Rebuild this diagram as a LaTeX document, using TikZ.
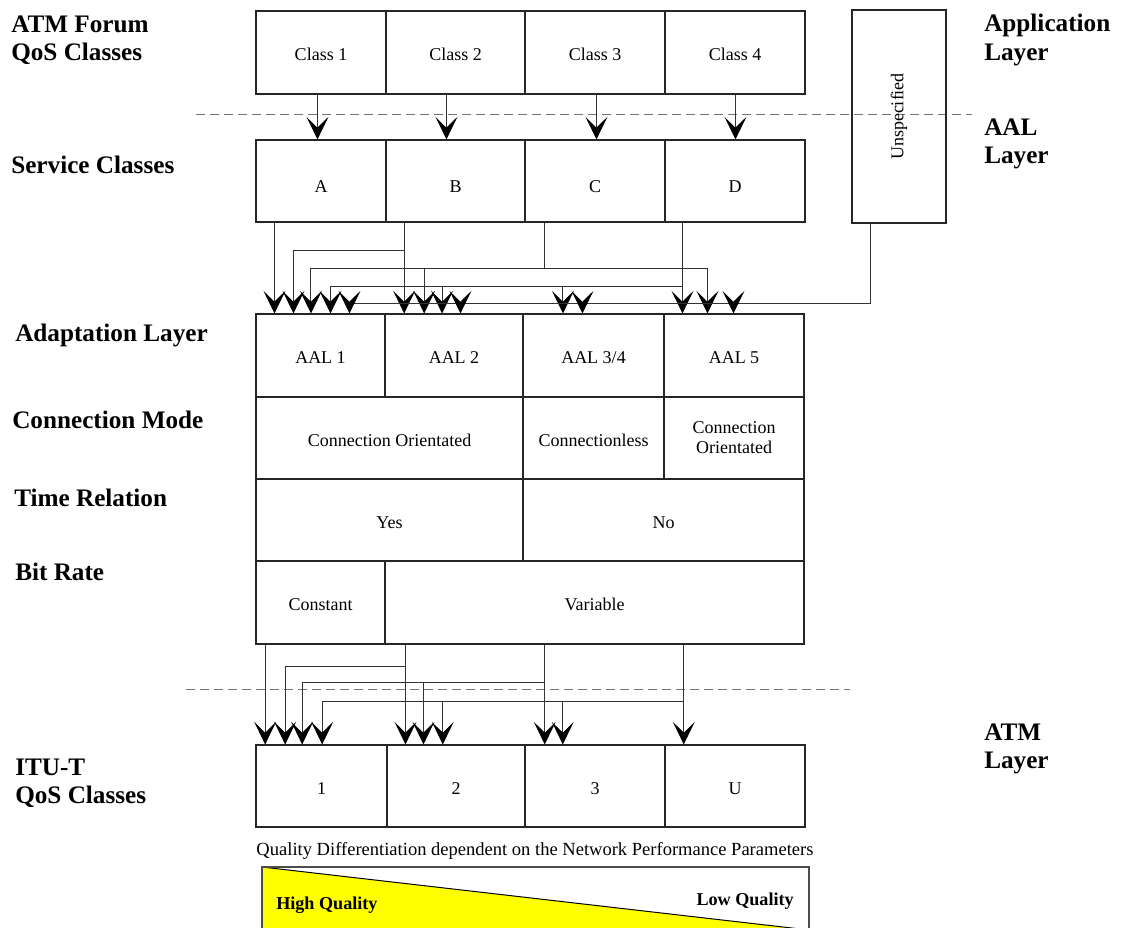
\documentclass[tikz,border=0pt]{standalone}
\usepackage{fontspec}
\setmainfont{Liberation Serif}
\usetikzlibrary{arrows.meta,calc}

\definecolor{qyellow}{RGB}{255,255,0}

% one table cell: name, left, top, right, bottom (pixel grid), text
\newcommand\cellbox[6]{%
  \node[cell, minimum width={(#4-#2)*0.75pt}, minimum height={(#5-#3)*0.75pt}]
    (#1) at ({(#2+#4)/2},{(#3+#5)/2}) {#6};}

\tikzset{
  cell/.style={draw=black!85, line width=0.8pt, inner sep=0pt, align=center,
               font=\fontsize{13.5pt}{15pt}\selectfont},
  oneline/.style={text height=12.7pt, text depth=0pt},
  lab/.style={font=\bfseries\fontsize{18.9pt}{21.5pt}\selectfont,
              inner sep=0pt, anchor=base west},
  small/.style={font=\fontsize{13.9pt}{16pt}\selectfont, inner sep=0pt},
  smallbold/.style={font=\bfseries\fontsize{13.6pt}{16pt}\selectfont, inner sep=0pt},
  wire/.style={draw=black!80, line width=0.75pt},
  arr/.style={wire, -{Stealth[length=17pt, width=16.5pt, inset=8.2pt, black]}},
  layerline/.style={draw=black!55, line width=0.75pt, dash pattern=on 6.75pt off 3.75pt},
}

\begin{document}
\begin{tikzpicture}[x=0.75pt, y=-0.75pt]
\useasboundingbox (0,0) rectangle (1122,928);

% ---------- row labels ----------
\node[lab] (lAtmForum) at (11,32.3) {\begin{tabular}[t]{@{}l@{}}ATM Forum\\QoS Classes\end{tabular}};
\node[lab] (lService)  at (11,173.3) {Service Classes};
\node[lab] (lAdapt)    at (15,341) {Adaptation Layer};
\node[lab] (lConn)     at (12,428.3) {Connection Mode};
\node[lab] (lTime)     at (14,506.7) {Time Relation};
\node[lab] (lBit)      at (15,580.7) {Bit Rate};
\node[lab] (lItu)      at (15,775) {\begin{tabular}[t]{@{}l@{}}ITU-T\\QoS Classes\end{tabular}};

\node[lab] (lApp) at (984,31.7) {\begin{tabular}[t]{@{}l@{}}Application\\Layer\end{tabular}};
\node[lab] (lAal) at (984,135) {\begin{tabular}[t]{@{}l@{}}AAL\\Layer\end{tabular}};
\node[lab] (lAtm) at (984,740) {\begin{tabular}[t]{@{}l@{}}ATM\\Layer\end{tabular}};

% ---------- layer boundaries ----------
\draw[layerline] (196,114) -- (972,114);
\draw[layerline] (186,689) -- (850,689);

% ---------- ATM Forum QoS classes ----------
\begin{scope}[cell/.append style={oneline}]
\cellbox{c1}{256}{11}{386}{94}{Class 1}
\cellbox{c2}{386}{11}{525}{94}{Class 2}
\cellbox{c3}{525}{11}{665}{94}{Class 3}
\cellbox{c4}{665}{11}{805}{94}{Class 4}
\end{scope}
\node[cell, rotate=90, minimum width={213*0.75pt}, minimum height={94*0.75pt}]
  (unsp) at (899,116.5) {Unspecified};

% ---------- service classes ----------
\begin{scope}[cell/.append style={text height=16.5pt, text depth=0pt}]
\cellbox{sA}{256}{140}{386}{222}{A}
\cellbox{sB}{386}{140}{525}{222}{B}
\cellbox{sC}{525}{140}{665}{222}{C}
\cellbox{sD}{665}{140}{805}{222}{D}
\end{scope}

% ---------- adaptation layer and properties ----------
\begin{scope}[cell/.append style={oneline}]
\cellbox{aal1}{256}{314}{385}{397}{AAL 1}
\cellbox{aal2}{385}{314}{523}{397}{AAL 2}
\cellbox{aal34}{523}{314}{664}{397}{AAL 3/4}
\cellbox{aal5}{664}{314}{804}{397}{AAL 5}

\cellbox{coA}{256}{397}{523}{479}{Connection Orientated}
\cellbox{cl}{523}{397}{664}{479}{Connectionless}
\end{scope}
\cellbox{coB}{664}{397}{804}{479}{Connection\\Orientated}

\begin{scope}[cell/.append style={oneline}]
\cellbox{tYes}{256}{479}{523}{561}{Yes}
\cellbox{tNo}{523}{479}{804}{561}{No}

\cellbox{bConst}{256}{561}{385}{644}{Constant}
\cellbox{bVar}{385}{561}{804}{644}{Variable}

% ---------- ITU-T QoS classes ----------
\cellbox{i1}{256}{745}{387}{827}{1}
\cellbox{i2}{387}{745}{525}{827}{2}
\cellbox{i3}{525}{745}{665}{827}{3}
\cellbox{iU}{665}{745}{805}{827}{U}
\end{scope}

% ---------- quality scale ----------
\node[small, anchor=base] (qdiff) at (535,855)
  {Quality Differentiation dependent on the Network Performance Parameters};
\node[draw=black!70, line width=0.8pt, inner sep=0pt,
      minimum width={547*0.75pt}, minimum height={63*0.75pt},
      path picture={
        \fill[qyellow] (path picture bounding box.north west)
          -- (path picture bounding box.south east)
          -- (path picture bounding box.south west) -- cycle;
        \draw[black, line width=0.75pt] (path picture bounding box.north west)
          -- (path picture bounding box.south east);}]
  (qual) at (535.5,898.5) {};
\node[smallbold, anchor=base west] (qHigh) at (276,909) {High Quality};
\node[smallbold, anchor=base east] (qLow) at (794,905) {Low Quality};

% ---------- QoS class -> service class ----------
\coordinate (a1) at ($(c1.south west)+(62,0)$);
\coordinate (a2) at ($(c2.south west)+(61,0)$);
\coordinate (a3) at ($(c3.south west)+(72,0)$);
\coordinate (a4) at ($(c4.south west)+(71,0)$);
\draw[arr] (a1) -- (a1 |- sA.north);
\draw[arr] (a2) -- (a2 |- sB.north);
\draw[arr] (a3) -- (a3 |- sC.north);
\draw[arr] (a4) -- (a4 |- sD.north);

% ---------- service class -> adaptation layer ----------
\coordinate (t11) at ($(aal1.north west)+(19,0)$);
\coordinate (t12) at ($(aal1.north west)+(38,0)$);
\coordinate (t13) at ($(aal1.north west)+(55.5,0)$);
\coordinate (t14) at ($(aal1.north west)+(75,0)$);
\coordinate (t15) at ($(aal1.north west)+(94,0)$);
\coordinate (t21) at ($(aal2.north west)+(19.7,0)$);
\coordinate (t22) at ($(aal2.north west)+(39.7,0)$);
\coordinate (t23) at ($(aal2.north west)+(57.6,0)$);
\coordinate (t24) at ($(aal2.north west)+(76,0)$);
\coordinate (t31) at ($(aal34.north west)+(40.5,0)$);
\coordinate (t32) at ($(aal34.north west)+(60,0)$);
\coordinate (t41) at ($(aal5.north west)+(19,0)$);
\coordinate (t42) at ($(aal5.north west)+(44,0)$);
\coordinate (t43) at ($(aal5.north west)+(70,0)$);
\coordinate (dC) at ($(sC.south west)+(20,0)$);
\coordinate (dU) at ($(unsp.north west)+(19,0)$);
\coordinate (yb) at (0,250);
\coordinate (yc) at (0,268.4);
\coordinate (yd) at (0,286);
\coordinate (yu) at (0,303);

% A
\draw[arr] (sA.south -| t11) -- (t11);
% B
\draw[arr] (sB.south -| t21) -- (t21);
\draw[arr] (t21 |- yb) -| (t12);
% C
\draw[wire] (dC) -- (dC |- yc);
\draw[arr] (dC |- yc) -| (t13);
\draw[arr] (dC |- yc) -| (t42);
\draw[arr] (t22 |- yc) -- (t22);
% D
\draw[arr] (sD.south -| t41) -- (t41);
\draw[arr] (t41 |- yd) -| (t14);
\draw[arr] (t23 |- yd) -- (t23);
\draw[arr] (t31 |- yd) -- (t31);
% Unspecified
\draw[arr] (dU) |- (t15 |- yu) -- (t15);
\draw[arr] (t24 |- yu) -- (t24);
\draw[arr] (t32 |- yu) -- (t32);
\draw[arr] (t43 |- yu) -- (t43);

% ---------- bit rate -> ITU-T classes ----------
\coordinate (u11) at ($(i1.north west)+(9.7,0)$);
\coordinate (u12) at ($(i1.north west)+(29.7,0)$);
\coordinate (u13) at ($(i1.north west)+(46.7,0)$);
\coordinate (u14) at ($(i1.north west)+(66.7,0)$);
\coordinate (u21) at ($(i2.north west)+(19,0)$);
\coordinate (u22) at ($(i2.north west)+(37,0)$);
\coordinate (u23) at ($(i2.north west)+(56.3,0)$);
\coordinate (u31) at ($(i3.north west)+(20.3,0)$);
\coordinate (u32) at ($(i3.north west)+(38.3,0)$);
\coordinate (u41) at ($(iU.north west)+(19.3,0)$);
\coordinate (lb) at (0,666);
\coordinate (lc) at (0,682.7);
\coordinate (ld) at (0,701);

\draw[arr] (bConst.south -| u11) -- (u11);
\draw[arr] (bVar.south -| u21) -- (u21);
\draw[arr] (u21 |- lb) -| (u12);
\draw[arr] (bVar.south -| u31) -- (u31);
\draw[arr] (u31 |- lc) -| (u13);
\draw[arr] (u22 |- lc) -- (u22);
\draw[arr] (bVar.south -| u41) -- (u41);
\draw[arr] (u41 |- ld) -| (u14);
\draw[arr] (u23 |- ld) -- (u23);
\draw[arr] (u32 |- ld) -- (u32);
\end{tikzpicture}
\end{document}
